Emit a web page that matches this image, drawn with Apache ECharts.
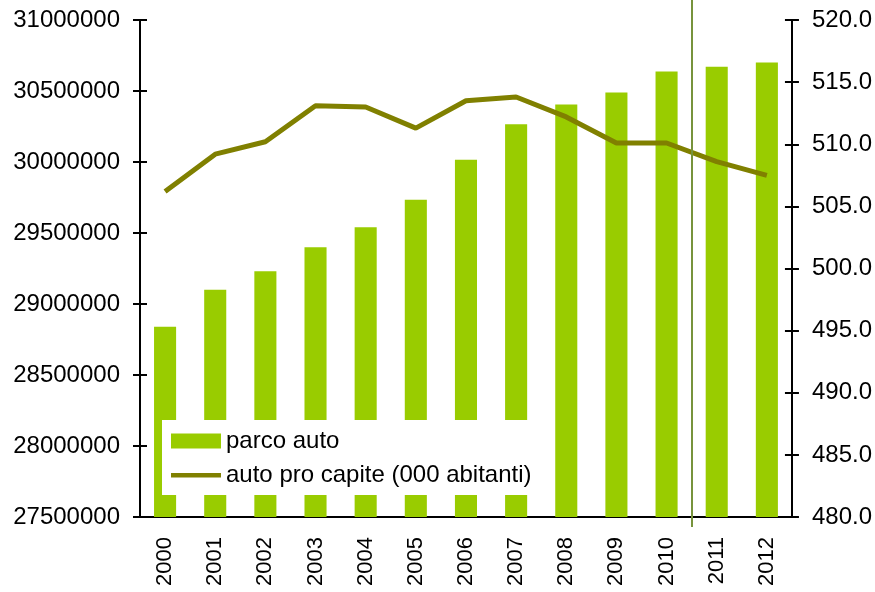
<!DOCTYPE html>
<html>
<head>
<meta charset="utf-8">
<script src="https://cdn.jsdelivr.net/npm/echarts@6/dist/echarts.min.js"></script>
<style>
  html, body { margin: 0; padding: 0; background: #fff; }
  #chart { width: 875px; height: 592px; }
</style>
</head>
<body>
<div id="chart"></div>
<script>
var years = ['2000', '2001', '2002', '2003', '2004', '2005', '2006', '2007', '2008', '2009', '2010', '2011', '2012'];
var parcoAuto = [28840000, 29100000, 29230000, 29400000, 29540000, 29735000, 30015000, 30265000, 30405000, 30490000, 30637000, 30670000, 30700000];
var autoProCapite = [506.2, 509.2, 510.2, 513.1, 513.0, 511.3, 513.5, 513.8, 512.2, 510.1, 510.1, 508.6, 507.5];
var breakAt = [11];  // vertical marker between 2010 and 2011

var chart = echarts.init(document.querySelector('#chart'));
var font = 'Liberation Sans, Arial, sans-serif';
var tick = { color: '#000', width: 2 };

var option = {
    animation: false,
    grid: [
        { left: 140, right: 83, top: 20, bottom: 75 },
        { left: 140, right: 83, top: 0, bottom: 65 }   // taller box for the marker line
    ],
    legend: {
        orient: 'vertical',
        left: 162,
        top: 420,
        width: 385,
        padding: [9, 9, 8, 9],
        itemGap: 10,
        itemWidth: 50,
        itemHeight: 15,
        backgroundColor: '#fff',
        textStyle: { fontFamily: font, fontSize: 24, color: '#000' },
        data: [
            { name: 'parco auto', icon: 'rect' },
            { name: 'auto pro capite (000 abitanti)', icon: 'path://M0,0h0.01v0.01h-0.01zM0,5.5h50v4.5h-50zM0,15h0.01v0.01h-0.01z' }
        ]
    },
    xAxis: [
        {
            type: 'category',
            data: years,
            axisLine: { lineStyle: tick },
            axisTick: { length: 7, lineStyle: tick },
            axisLabel: { rotate: 90, margin: 20, fontFamily: font, fontSize: 22, color: '#000' }
        },
        {
            type: 'category',
            data: years,
            position: 'bottom',
            axisLine: { show: false },
            axisTick: { inside: true, length: 7, lineStyle: tick },
            axisLabel: { show: false }
        },
        {
            type: 'value',
            gridIndex: 1,
            min: 0,
            max: 13,
            show: false
        }
    ],
    yAxis: [
        {
            type: 'value',
            position: 'left',
            min: 27500000,
            max: 31000000,
            interval: 500000,
            splitLine: { show: false },
            axisLine: { show: true, lineStyle: tick },
            axisTick: { show: true, length: 7, lineStyle: tick },
            axisLabel: { margin: 20, fontFamily: font, fontSize: 24, color: '#000', formatter: function (v) { return String(v); } }
        },
        {
            type: 'value',
            position: 'right',
            min: 480,
            max: 520,
            interval: 5,
            splitLine: { show: false },
            axisLine: { show: true, lineStyle: tick },
            axisTick: { show: true, length: 7, lineStyle: tick },
            axisLabel: { margin: 20, fontFamily: font, fontSize: 24, color: '#000', formatter: function (v) { return v.toFixed(1); } }
        },
        {
            type: 'value',
            position: 'left',
            min: 27500000,
            max: 31000000,
            interval: 500000,
            splitLine: { show: false },
            axisLine: { show: false },
            axisTick: { show: true, inside: true, length: 7, lineStyle: tick },
            axisLabel: { show: false }
        },
        {
            type: 'value',
            position: 'right',
            min: 480,
            max: 520,
            interval: 5,
            splitLine: { show: false },
            axisLine: { show: false },
            axisTick: { show: true, inside: true, length: 7, lineStyle: tick },
            axisLabel: { show: false }
        },
        {
            type: 'value',
            gridIndex: 1,
            min: 0,
            max: 1,
            show: false
        }
    ],
    series: [
        {
            name: 'parco auto',
            type: 'bar',
            xAxisIndex: 0,
            yAxisIndex: 0,
            barWidth: '44%',
            itemStyle: { color: '#99cc00' },
            data: parcoAuto
        },
        {
            type: 'scatter',
            xAxisIndex: 2,
            yAxisIndex: 4,
            data: [],
            silent: true,
            z: 2,
            markLine: {
                symbol: 'none',
                silent: true,
                label: { show: false },
                lineStyle: { color: '#77933c', width: 2, type: 'solid' },
                data: breakAt.map(function (v) { return { xAxis: v }; })
            }
        },
        {
            name: 'auto pro capite (000 abitanti)',
            type: 'line',
            xAxisIndex: 0,
            yAxisIndex: 1,
            symbol: 'none',
            color: '#808000',
            lineStyle: { color: '#808000', width: 5 },
            z: 3,
            data: autoProCapite
        }
    ]
};
chart.setOption(option);
</script>
</body>
</html>
